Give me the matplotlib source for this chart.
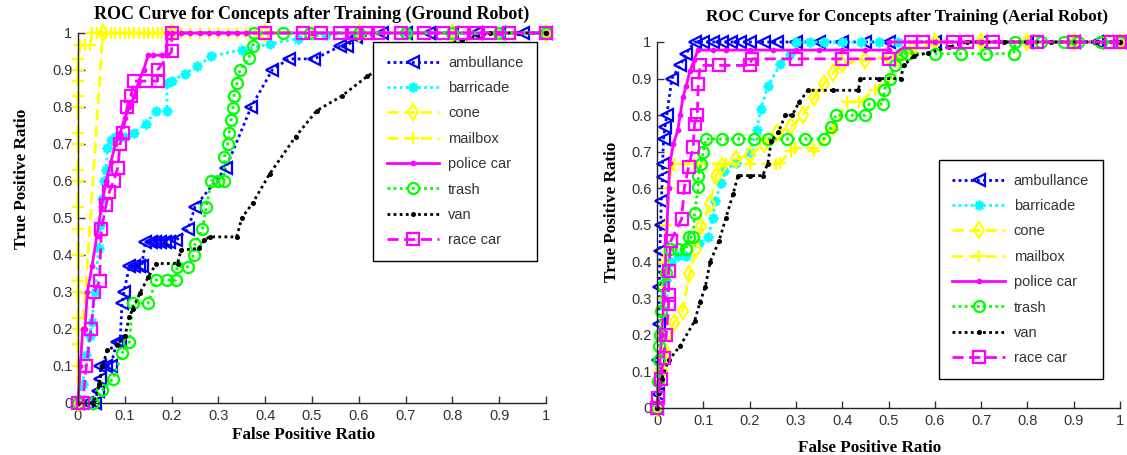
import matplotlib
matplotlib.use("Agg")
import matplotlib.pyplot as plt

labels = ["ambullance", "barricade", "cone", "mailbox", "police car", "trash", "van", "race car"]
ticks = [0, 0.1, 0.2, 0.3, 0.4, 0.5, 0.6, 0.7, 0.8, 0.9, 1]
tick_labels = ["0", "0.1", "0.2", "0.3", "0.4", "0.5", "0.6", "0.7", "0.8", "0.9", "1"]

# ---------------- Ground robot ----------------
g_amb_x = [0, 0.02, 0.037, 0.042, 0.048, 0.048, 0.06, 0.07, 0.083, 0.09, 0.094, 0.098, 0.11, 0.12, 0.13, 0.136, 0.144, 0.155, 0.165, 0.175, 0.185, 0.195, 0.21, 0.235, 0.25, 0.316, 0.37, 0.415, 0.45, 0.505, 0.56, 0.575, 0.595, 0.65, 0.7, 0.75, 0.8, 0.85, 0.9, 0.95, 1.0]
g_amb_y = [0, 0, 0, 0.033, 0.066, 0.1, 0.1, 0.1, 0.165, 0.165, 0.27, 0.3, 0.37, 0.37, 0.37, 0.37, 0.436, 0.436, 0.436, 0.436, 0.436, 0.436, 0.44, 0.47, 0.53, 0.635, 0.8, 0.9, 0.93, 0.93, 0.964, 0.964, 0.99, 1, 1, 1, 1, 1, 1, 1, 1]

g_bar_x = [0, 0.01, 0.018, 0.025, 0.03, 0.037, 0.044, 0.048, 0.052, 0.056, 0.06, 0.063, 0.07, 0.08, 0.1, 0.12, 0.145, 0.167, 0.19, 0.19, 0.2, 0.228, 0.255, 0.285, 0.35, 0.41, 0.47, 0.53, 0.6, 0.7, 0.8, 0.9, 1.0]
g_bar_y = [0, 0.05, 0.13, 0.18, 0.22, 0.3, 0.42, 0.48, 0.55, 0.6, 0.63, 0.69, 0.71, 0.72, 0.72, 0.73, 0.755, 0.79, 0.79, 0.865, 0.87, 0.89, 0.91, 0.937, 0.955, 0.97, 0.985, 0.995, 1, 1, 1, 1, 1]

g_cone_x = [0, 0.053, 0.2, 0.4, 0.6, 0.8, 1.0]
g_cone_y = [0, 1.0, 1, 1, 1, 1, 1]

g_mail_x = [0, 0, 0, 0, 0, 0, 0, 0, 0, 0, 0, 0, 0, 0, 0, 0, 0, 0, 0,
            0.005, 0.015, 0.025, 0.03,
            0.04, 0.05, 0.06, 0.07, 0.08, 0.09, 0.1, 0.11, 0.12, 0.13, 0.14, 0.15, 0.16, 0.17, 0.18, 0.19, 0.2, 0.22, 0.24, 0.26, 0.28, 0.3, 0.32, 0.34, 0.36, 0.38,
            0.5, 0.6, 0.7, 0.8, 0.9, 1.0]
g_mail_y = [0, 0.1, 0.16, 0.2, 0.23, 0.3, 0.33, 0.4, 0.47, 0.53, 0.6, 0.63, 0.7, 0.73, 0.8, 0.83, 0.87, 0.9, 0.93,
            0.967, 0.967, 0.967, 1,
            1, 1, 1, 1, 1, 1, 1, 1, 1, 1, 1, 1, 1, 1, 1, 1, 1, 1, 1, 1, 1, 1, 1, 1, 1, 1,
            1, 1, 1, 1, 1, 1]

g_pol_x = [0, 0.005, 0.01, 0.015, 0.02, 0.03, 0.04, 0.05, 0.06, 0.07, 0.08, 0.09, 0.1, 0.11, 0.12, 0.13, 0.14, 0.15, 0.16, 0.18, 0.19, 0.19, 0.2, 0.22, 0.24, 0.26, 0.28, 0.3, 0.32, 0.34, 0.36, 0.5, 0.7, 0.9, 1.0]
g_pol_y = [0, 0.1, 0.2, 0.2, 0.3, 0.37, 0.45, 0.53, 0.6, 0.65, 0.7, 0.73, 0.77, 0.8, 0.83, 0.87, 0.9, 0.94, 0.94, 0.94, 0.94, 1.0, 1, 1, 1, 1, 1, 1, 1, 1, 1, 1, 1, 1, 1]

g_trash_x = [0, 0.033, 0.052, 0.075, 0.094, 0.11, 0.117, 0.15, 0.167, 0.19, 0.209, 0.212, 0.235, 0.247, 0.25, 0.266, 0.274, 0.285, 0.3, 0.312, 0.313, 0.32, 0.323, 0.327, 0.331, 0.333, 0.34, 0.346, 0.365, 0.374, 0.377, 0.438, 0.495, 0.6, 0.7, 0.8, 0.9, 1.0]
g_trash_y = [0, 0, 0.034, 0.066, 0.134, 0.165, 0.27, 0.27, 0.332, 0.332, 0.332, 0.368, 0.368, 0.4, 0.43, 0.47, 0.53, 0.6, 0.6, 0.6, 0.666, 0.7, 0.73, 0.765, 0.797, 0.829, 0.865, 0.9, 0.932, 0.964, 1.0, 1, 1, 1, 1, 1, 1, 1]

g_van_x = [0, 0.033, 0.045, 0.052, 0.063, 0.083, 0.1, 0.11, 0.117, 0.132, 0.15, 0.167, 0.213, 0.22, 0.258, 0.27, 0.281, 0.339, 0.35, 0.373, 0.41, 0.465, 0.51, 0.564, 0.618, 0.68, 0.75, 0.82, 0.88, 0.94, 1.0]
g_van_y = [0, 0, 0.05, 0.1, 0.143, 0.156, 0.18, 0.233, 0.255, 0.296, 0.34, 0.377, 0.377, 0.413, 0.418, 0.44, 0.449, 0.449, 0.5, 0.54, 0.62, 0.72, 0.79, 0.83, 0.883, 0.93, 0.96, 0.98, 1.0, 1.0, 1.0]

g_race_x = [0, 0.01, 0.018, 0.028, 0.035, 0.046, 0.05, 0.06, 0.067, 0.076, 0.085, 0.09, 0.096, 0.105, 0.113, 0.12, 0.145, 0.17, 0.17, 0.2, 0.2, 0.4, 0.48, 0.52, 0.56, 0.59, 0.62, 0.64, 0.69, 0.74, 0.78, 0.82, 0.85, 0.88, 0.92, 1.0]
g_race_y = [0, 0, 0.1, 0.2, 0.3, 0.33, 0.47, 0.535, 0.57, 0.6, 0.635, 0.7, 0.73, 0.8, 0.83, 0.87, 0.87, 0.87, 0.9, 0.95, 1.0, 1, 1, 1, 1, 1, 1, 1, 1, 1, 1, 1, 1, 1, 1, 1]

# ---------------- Aerial robot ----------------
a_amb_x = [0, 0.002, 0.003, 0.004, 0.005, 0.006, 0.008, 0.009, 0.012, 0.012, 0.014, 0.017, 0.021, 0.032, 0.05, 0.062, 0.081, 0.1, 0.12, 0.14, 0.16, 0.18, 0.2, 0.23, 0.26, 0.3, 0.35, 0.4, 0.45, 0.5, 0.6, 0.7, 0.8, 0.9, 0.95, 1.0]
a_amb_y = [0, 0.037, 0.13, 0.23, 0.33, 0.43, 0.5, 0.566, 0.63, 0.667, 0.735, 0.767, 0.8, 0.9, 0.936, 0.968, 1.0, 1, 1, 1, 1, 1, 1, 1, 1, 1, 1, 1, 1, 1, 1, 1, 1, 1, 1, 1]

a_bar_x = [0, 0.005, 0.01, 0.015, 0.02, 0.03, 0.045, 0.0625, 0.09, 0.111, 0.12, 0.126, 0.138, 0.145, 0.17, 0.2, 0.215, 0.224, 0.24, 0.266, 0.288, 0.3, 0.33, 0.36, 0.4, 0.44, 0.48, 0.52, 0.6, 0.7, 0.8, 0.9, 1.0]
a_bar_y = [0, 0.1, 0.2, 0.3, 0.35, 0.4, 0.415, 0.415, 0.45, 0.466, 0.52, 0.566, 0.616, 0.648, 0.67, 0.7, 0.76, 0.817, 0.88, 0.94, 0.968, 1.0, 1, 1, 1, 1, 1, 1, 1, 1, 1, 1, 1]

a_cone_x = [0, 0.01, 0.02, 0.036, 0.055, 0.07, 0.085, 0.096, 0.115, 0.127, 0.14, 0.17, 0.2, 0.23, 0.26, 0.29, 0.315, 0.34, 0.36, 0.38, 0.4, 0.45, 0.5, 0.55, 0.6, 0.7, 0.8, 0.9, 1.0]
a_cone_y = [0, 0.1, 0.15, 0.233, 0.265, 0.365, 0.434, 0.498, 0.557, 0.635, 0.66, 0.68, 0.69, 0.72, 0.75, 0.77, 0.8, 0.85, 0.886, 0.915, 0.94, 0.95, 0.96, 0.98, 1.0, 1, 1, 1, 1]

a_mail_x = [0, 0.005, 0.01, 0.012, 0.015, 0.02, 0.025, 0.03, 0.036, 0.08, 0.15, 0.2, 0.258, 0.265, 0.29, 0.297, 0.336, 0.34, 0.38, 0.41, 0.437, 0.47, 0.5, 0.52, 0.55, 0.6, 0.7, 0.8, 0.9, 1.0]
a_mail_y = [0, 0.1, 0.2, 0.3, 0.4, 0.5, 0.6, 0.65, 0.667, 0.667, 0.667, 0.667, 0.667, 0.67, 0.703, 0.71, 0.71, 0.703, 0.76, 0.836, 0.836, 0.87, 0.9, 0.95, 0.97, 1.0, 1, 1, 1, 1]

a_pol_x = [0, 0.005, 0.01, 0.015, 0.02, 0.025, 0.028, 0.035, 0.045, 0.05, 0.056, 0.063, 0.071, 0.08, 0.088, 0.12, 0.15, 0.2, 0.25, 0.3, 0.35, 0.4, 0.45, 0.5, 0.5, 0.6, 0.7, 0.8, 0.9, 1.0]
a_pol_y = [0, 0.1, 0.2, 0.3, 0.45, 0.6, 0.67, 0.72, 0.76, 0.8, 0.85, 0.88, 0.92, 0.95, 0.978, 0.978, 0.978, 0.978, 0.978, 0.978, 0.978, 0.978, 0.978, 0.978, 1.0, 1, 1, 1, 1, 1]

a_trash_x = [0, 0.002, 0.004, 0.005, 0.006, 0.008, 0.012, 0.02, 0.027, 0.045, 0.0625, 0.068, 0.078, 0.081, 0.089, 0.089, 0.095, 0.1, 0.105, 0.14, 0.175, 0.21, 0.24, 0.28, 0.32, 0.36, 0.376, 0.386, 0.42, 0.45, 0.458, 0.488, 0.49, 0.503, 0.514, 0.526, 0.54, 0.6, 0.657, 0.71, 0.77, 0.774, 0.83, 0.88, 0.91, 0.96, 1.0]
a_trash_y = [0, 0.073, 0.13, 0.17, 0.2, 0.265, 0.333, 0.37, 0.434, 0.434, 0.434, 0.466, 0.466, 0.534, 0.603, 0.635, 0.667, 0.7, 0.735, 0.735, 0.735, 0.735, 0.735, 0.735, 0.735, 0.735, 0.767, 0.8, 0.8, 0.8, 0.83, 0.83, 0.868, 0.9, 0.936, 0.968, 0.968, 0.968, 0.968, 0.968, 0.968, 1.0, 1, 1, 1, 1, 1]

a_van_x = [0, 0.005, 0.01, 0.025, 0.05, 0.081, 0.093, 0.104, 0.115, 0.134, 0.149, 0.164, 0.175, 0.2, 0.228, 0.239, 0.247, 0.262, 0.277, 0.292, 0.307, 0.326, 0.38, 0.435, 0.439, 0.48, 0.526, 0.533, 0.556, 0.586, 0.63, 0.67, 0.75, 0.85, 0.95, 1.0]
a_van_y = [0, 0.04, 0.08, 0.13, 0.17, 0.237, 0.29, 0.33, 0.4, 0.457, 0.52, 0.584, 0.635, 0.635, 0.635, 0.667, 0.73, 0.753, 0.8, 0.8, 0.836, 0.868, 0.868, 0.868, 0.9, 0.9, 0.9, 0.936, 0.963, 0.97, 0.986, 1.0, 1, 1, 1, 1]

a_race_x = [0, 0.002, 0.008, 0.014, 0.02, 0.025, 0.025, 0.025, 0.03, 0.053, 0.059, 0.068, 0.078, 0.081, 0.087, 0.089, 0.093, 0.134, 0.2, 0.205, 0.3, 0.4, 0.5, 0.548, 0.575, 0.64, 0.67, 0.725, 0.82, 0.9, 0.98, 1.0]
a_race_y = [0, 0.027, 0.08, 0.137, 0.2, 0.283, 0.31, 0.374, 0.457, 0.516, 0.603, 0.658, 0.712, 0.776, 0.8, 0.886, 0.936, 0.936, 0.936, 0.954, 0.954, 0.954, 0.954, 1.0, 1, 1, 1, 1, 1, 1, 1, 1]

DOT = (0, (1, 1.2))
DASH = (0, (4, 2.0))
styles = [
    dict(color="#0000ff", ls=DOT, marker="<", ms=8),
    dict(color="#00ffff", ls=DOT, marker=(8, 2, 0), ms=7),
    dict(color="#ffff00", ls=DASH, marker="d", ms=8),
    dict(color="#ffff00", ls=DASH, marker="+", ms=8),
    dict(color="#ff00ff", ls="-", marker=".", ms=5),
    dict(color="#00ff00", ls=DOT, marker="o", ms=8),
    dict(color="#000000", ls=DOT, marker=".", ms=4),
    dict(color="#ff00ff", ls=DASH, marker="s", ms=8),
]

ground = [(g_amb_x, g_amb_y), (g_bar_x, g_bar_y), (g_cone_x, g_cone_y), (g_mail_x, g_mail_y),
          (g_pol_x, g_pol_y), (g_trash_x, g_trash_y), (g_van_x, g_van_y), (g_race_x, g_race_y)]
aerial = [(a_amb_x, a_amb_y), (a_bar_x, a_bar_y), (a_cone_x, a_cone_y), (a_mail_x, a_mail_y),
          (a_pol_x, a_pol_y), (a_trash_x, a_trash_y), (a_van_x, a_van_y), (a_race_x, a_race_y)]

fig = plt.figure(figsize=(11.27, 4.55), dpi=100)
axL = fig.add_axes([0.0692, 0.1143, 0.4153, 0.8132])
axR = fig.add_axes([0.583, 0.1033, 0.4108, 0.8044])

serif = "Liberation Serif"
sans = "Liberation Sans"


def draw(ax, data, title, title_size, title_x, title_pad, leg_anchor, xlabel_x, xlabel_pad, ylabel_y, ylabel_pad):
    for (xs, ys), lab, st in zip(data, labels, styles):
        ax.plot(xs, ys, color=st["color"], linestyle=st["ls"], linewidth=2.0,
                marker=st["marker"], markersize=st["ms"], markerfacecolor="none",
                markeredgecolor=st["color"], markeredgewidth=1.6,
                label=lab, clip_on=False)
    ax.set_xlim(0, 1)
    ax.set_ylim(0, 1)
    ax.set_xticks(ticks)
    ax.set_yticks(ticks)
    ax.set_xticklabels(tick_labels, fontfamily=sans, fontsize=10.5, color="#333333")
    ax.set_yticklabels(tick_labels, fontfamily=sans, fontsize=10.5, color="#333333")
    ax.tick_params(direction="in", length=5, width=1, colors="#333333", pad=4)
    for s in ("top", "right"):
        ax.spines[s].set_visible(False)
    for s in ("left", "bottom"):
        ax.spines[s].set_color("#222222")
        ax.spines[s].set_linewidth(1)
    ax.set_title(title, fontfamily=serif, fontweight="bold", fontsize=title_size, pad=title_pad, x=title_x)
    ax.set_xlabel("False Positive Ratio", fontfamily=serif, fontweight="bold", fontsize=12.3,
                  labelpad=xlabel_pad, x=xlabel_x)
    ax.set_ylabel("True Positive Ratio", fontfamily=serif, fontweight="bold", fontsize=12.3,
                  labelpad=ylabel_pad, y=ylabel_y)
    leg = ax.legend(loc="upper left", bbox_to_anchor=leg_anchor, numpoints=1,
                    prop={"family": sans, "size": 10.5}, handlelength=3.6,
                    labelspacing=0.78, borderpad=0.95, handletextpad=0.6,
                    borderaxespad=0, fancybox=False, framealpha=1,
                    edgecolor="#000000")
    leg.get_frame().set_linewidth(1)
    for t in leg.get_texts():
        t.set_color("#333333")


draw(axL, ground, "ROC Curve for Concepts after Training (Ground Robot)", 13, 0.5, 10,
     (0.630, 0.976), 0.483, 3, 0.605, 16)
draw(axR, aerial, "ROC Curve for Concepts after Training (Aerial Robot)", 12.3, 0.54, 15,
     (0.608, 0.678), 0.46, 9, 0.535, 8)

fig.savefig("out.png", dpi=100)
